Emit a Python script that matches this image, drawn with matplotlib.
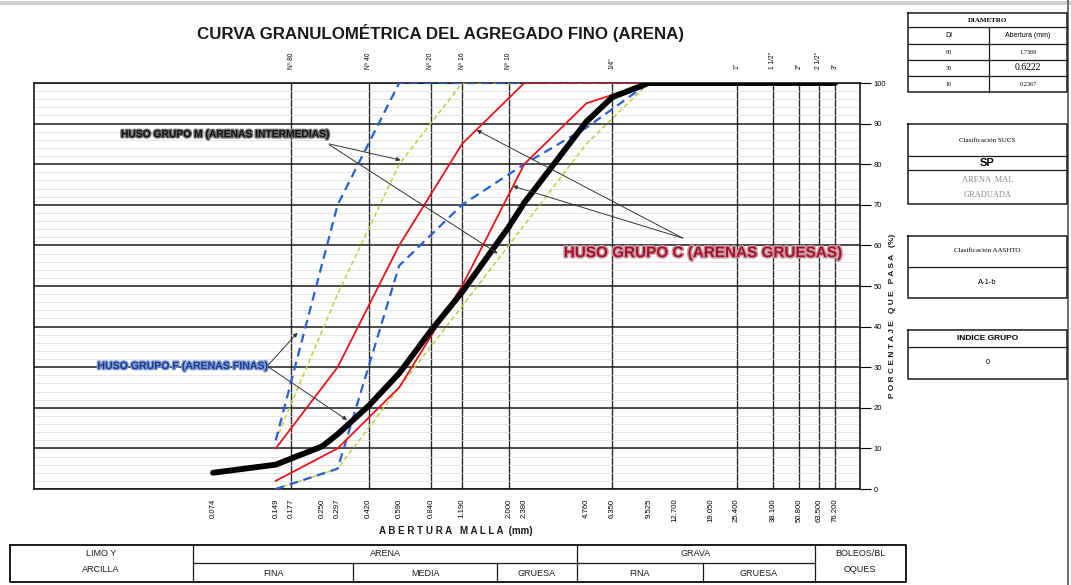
import matplotlib
matplotlib.use("Agg")
import matplotlib.pyplot as plt
import matplotlib.patheffects as pe
from matplotlib.ticker import NullLocator, MultipleLocator, FixedLocator

plt.rcParams['font.family'] = ['Liberation Sans', 'DejaVu Sans']

# Tamices (mm) y etiquetas del eje inferior
tamices = [0.074, 0.149, 0.177, 0.250, 0.297, 0.420, 0.590, 0.840, 1.190,
           2.000, 2.380, 4.760, 6.350, 9.525, 12.700, 19.050, 25.400,
           38.100, 50.800, 63.500, 76.200]
etiquetas_tamiz = ["0.074", "0.149", "0.177", "0.250", "0.297", "0.420",
                   "0.590", "0.840", "1.190", "2.000", "2.380", "4.760",
                   "6.350", "9.525", "12.700", "19.050", "25.400", "38.100",
                   "50.800", "63.500", "76.200"]
# Porcentaje que pasa de la muestra
pasa_muestra = [4, 6, 7.5, 10.5, 13.5, 20.5, 28.5, 39, 48.5, 64.5, 70.5,
                90.5, 96.5, 100, 100, 100, 100, 100, 100, 100, 100]

# Husos granulometricos
tamices_huso = [0.149, 0.297, 0.590, 1.190, 2.380, 4.760, 9.525]
huso_c_sup = [10, 30, 60, 85, 100, 100, 100]
huso_c_inf = [2, 10, 25, 50, 80, 95, 100]
huso_m_sup = [12, 48, 80, 100, 100, 100, 100]
huso_m_inf = [0, 5, 25, 45, 65, 85, 100]
huso_f_sup = [12, 70, 100, 100, 100, 100, 100]
huso_f_inf = [0, 5, 55, 70, 80, 89, 100]

# Mallas (eje superior / lineas verticales)
mallas_nombre = ["Nº 80", "Nº 40", "Nº 20", "Nº 16", "Nº 10", '1/4"', '1"',
                 '1 1/2"', '2"', '2 1/2"', '3"']
mallas_abertura = [0.177, 0.420, 0.840, 1.190, 2.000, 6.350, 25.400,
                   38.100, 50.800, 63.500, 76.200]

# Tabla de diametros
diametros_di = ["60", "30", "10"]
diametros_mm = ["1.7369", "0.6222", "0.2367"]

W, H = 1071, 585
fig = plt.figure(figsize=(W / 100, H / 100), dpi=100)

# Ejes principales (posicion en pixeles de la figura)
x0, x1, y0, y1 = 33.5, 859.5, 83, 489
ax = fig.add_axes([x0 / W, 1 - y1 / H, (x1 - x0) / W, (y1 - y0) / H])
ax.set_xscale('log')
ax.set_xlim(0.01, 100)
ax.set_ylim(0, 100)

# Rejilla
ax.yaxis.set_major_locator(MultipleLocator(10))
ax.yaxis.set_minor_locator(MultipleLocator(2))
ax.grid(axis='y', which='major', color='#1a1a1a', lw=1.1, zorder=1)
ax.grid(axis='y', which='minor', color='#dadada', lw=0.5, zorder=0)
for m in mallas_abertura:
    ax.axvline(m, color='#2a2a2a', lw=1.0, zorder=1)

# Husos
ax.plot(tamices_huso, huso_m_sup, color='#c2cc3c', lw=1.1, ls=(0, (3, 2)), zorder=3)
ax.plot(tamices_huso, huso_m_inf, color='#c2cc3c', lw=1.1, ls=(0, (3, 2)), zorder=3)
ax.plot(tamices_huso, huso_f_sup, color='#2b5fd6', lw=1.6, ls=(0, (4, 2.5)), zorder=3)
ax.plot(tamices_huso, huso_f_inf, color='#2b5fd6', lw=1.6, ls=(0, (4, 2.5)), zorder=3)
ax.plot(tamices_huso, huso_c_sup, color='#e8141b', lw=1.3, zorder=4)
ax.plot(tamices_huso, huso_c_inf, color='#e8141b', lw=1.3, zorder=4)

# Curva de la muestra
ax.plot(tamices, pasa_muestra, color='black', lw=4.2, solid_capstyle='round',
        solid_joinstyle='round', zorder=5)

# Ejes
for s in ax.spines.values():
    s.set_linewidth(1.2)
    s.set_color('#1a1a1a')
ax.set_xticks(tamices)
ax.set_xticklabels(etiquetas_tamiz, rotation=90, fontsize=5.6)
ax.xaxis.set_minor_locator(NullLocator())
ax.tick_params(axis='x', length=0, pad=7)
ax.yaxis.tick_right()
ax.tick_params(axis='y', which='major', length=8, width=0.8, pad=2, labelsize=5.5)
ax.tick_params(axis='y', which='minor', length=0)
ax.tick_params(axis='y', which='both', left=False)

sec = ax.secondary_xaxis('top')
sec.xaxis.set_major_locator(FixedLocator(mallas_abertura))
sec.set_xticklabels(mallas_nombre, rotation=90, fontsize=4.8)
sec.xaxis.set_minor_locator(NullLocator())
sec.tick_params(length=0, pad=10)
sec.spines['top'].set_visible(False)

# Anotaciones de husos
flecha = dict(arrowstyle='-|>', lw=0.7, color='#333333', mutation_scale=6,
              shrinkA=0, shrinkB=0)
ax.text(0.2306, 0.874, "HUSO GRUPO M (ARENAS INTERMEDIAS)", transform=ax.transAxes,
        ha='center', va='center', fontsize=7.4, fontweight='bold', color='#111111',
        path_effects=[pe.withStroke(linewidth=2.0, foreground='#6e6e6e')], zorder=6)
ax.annotate('', xy=(0.60, 81), xytext=(0.358, 0.850), textcoords='axes fraction',
            arrowprops=flecha, zorder=6)
ax.annotate('', xy=(1.77, 58), xytext=(0.358, 0.848), textcoords='axes fraction',
            arrowprops=flecha, zorder=6)

ax.text(0.180, 0.303, "HUSO GRUPO F (ARENAS FINAS)", transform=ax.transAxes,
        ha='center', va='center', fontsize=7.6, fontweight='bold', color='#1b3a8c',
        path_effects=[pe.withStroke(linewidth=2.0, foreground='#7f9ad4')], zorder=6)
ax.annotate('', xy=(0.19, 38.5), xytext=(0.284, 0.305), textcoords='axes fraction',
            arrowprops=flecha, zorder=6)
ax.annotate('', xy=(0.33, 17), xytext=(0.284, 0.301), textcoords='axes fraction',
            arrowprops=flecha, zorder=6)

ax.text(0.810, 0.581, "HUSO GRUPO C (ARENAS GRUESAS)", transform=ax.transAxes,
        ha='center', va='center', fontsize=11, fontweight='bold', color='#a3102a',
        path_effects=[pe.withStroke(linewidth=2.2, foreground='#c99aa3')], zorder=6)
ax.annotate('', xy=(1.40, 88.4), xytext=(0.786, 0.618), textcoords='axes fraction',
            arrowprops=flecha, zorder=6)
ax.annotate('', xy=(2.10, 74.6), xytext=(0.786, 0.618), textcoords='axes fraction',
            arrowprops=flecha, zorder=6)

# Capa superior en pixeles para textos y tablas
ov = fig.add_axes([0, 0, 1, 1], zorder=10)
ov.set_xlim(0, W)
ov.set_ylim(H, 0)
ov.axis('off')
ov.patch.set_alpha(0)

ov.text(197, 33, "CURVA GRANULOMÉTRICA DEL AGREGADO FINO (ARENA)", ha='left',
        va='center', fontsize=12.2, fontweight='bold', color='#1a1a1a')
ov.text(456, 531, "A B E R T U R A   M A L L A  (mm)", ha='center', va='center',
        fontsize=7.0, fontweight='bold', color='#1a1a1a')
ov.text(892, 316, "P O R C E N T A J E   Q U E   P A S A   (%)", ha='center',
        va='center', rotation=90, fontsize=6.0, fontweight='bold', color='#1a1a1a')

# Linea del borde del escaneo
ov.plot([0, W], [3, 3], color='#cfcfcf', lw=3)
ov.plot([1068, 1068], [0, H], color='#555555', lw=1.2)


def caja(xa, xb, ya, yb, lw=1.1):
    ov.plot([xa, xb, xb, xa, xa], [ya, ya, yb, yb, ya], color='#1a1a1a', lw=lw)


def linea(xa, xb, ya, yb, lw=0.9):
    ov.plot([xa, xb], [ya, yb], color='#1a1a1a', lw=lw)


# Tabla de diametros
bx0, bx1, bxm = 908, 1067, 989
caja(bx0, bx1, 13, 92)
linea(bx0, bx1, 27, 27)
linea(bx0, bx1, 44, 44)
linea(bx0, bx1, 60, 60)
linea(bx0, bx1, 76, 76)
linea(bxm, bxm, 27, 92)
ov.text((bx0 + bx1) / 2, 20, "DIAMETRO", ha='center', va='center', fontsize=5,
        fontweight='bold', family='Liberation Serif')
ov.text((bx0 + bxm) / 2, 35.5, "DI", ha='center', va='center', fontsize=5)
ov.text((bxm + bx1) / 2, 35.5, "Abertura (mm)", ha='center', va='center', fontsize=5)
filas_y = [52, 68, 84]
for d, v, yy in zip(diametros_di, diametros_mm, filas_y):
    ov.text((bx0 + bxm) / 2, yy, d, ha='center', va='center', fontsize=4.5,
            family='Liberation Serif')
    ov.text((bxm + bx1) / 2, yy, v, ha='center', va='center',
            fontsize=7 if v == "0.6222" else 4.5, family='Liberation Serif')

# Clasificacion SUCS
caja(bx0, bx1, 124, 204)
linea(bx0, bx1, 156, 156)
linea(bx0, bx1, 170, 170)
ov.text((bx0 + bx1) / 2, 140, "Clasificación SUCS", ha='center', va='center',
        fontsize=5, family='Liberation Serif')
ov.text((bx0 + bx1) / 2, 163, "SP", ha='center', va='center', fontsize=8,
        fontweight='bold')
ov.text((bx0 + bx1) / 2, 180, "ARENA  MAL", ha='center', va='center', fontsize=6,
        color='#8a8a8a', family='Liberation Serif')
ov.text((bx0 + bx1) / 2, 195, "GRADUADA", ha='center', va='center', fontsize=6,
        color='#8a8a8a', family='Liberation Serif')

# Clasificacion AASHTO
caja(bx0, bx1, 236, 298)
linea(bx0, bx1, 267, 267)
ov.text((bx0 + bx1) / 2, 251, "Clasificación AASHTO", ha='center', va='center',
        fontsize=5, family='Liberation Serif')
ov.text((bx0 + bx1) / 2, 283, "A-1-b", ha='center', va='center', fontsize=5.5)

# Indice de grupo
caja(bx0, bx1, 330, 379)
linea(bx0, bx1, 347, 347)
ov.text((bx0 + bx1) / 2, 338.5, "INDICE GRUPO", ha='center', va='center',
        fontsize=6, fontweight='bold')
ov.text((bx0 + bx1) / 2, 363, "0", ha='center', va='center', fontsize=5.5)

# Tabla inferior de clasificacion
caja(10, 906, 545, 582, lw=1.4)
linea(193, 815, 563, 563)
for xv in [193, 577, 815]:
    linea(xv, xv, 545, 582)
for xv in [353, 497, 703]:
    linea(xv, xv, 563, 582)
ft = dict(ha='center', va='center', fontsize=6.5, color='#1a1a1a')
ov.text(101, 553, "LIMO Y", **ft)
ov.text(101, 570, "ARCILLA", **ft)
ov.text(385, 554, "ARENA", **ft)
ov.text(696, 554, "GRAVA", **ft)
ov.text(273, 573, "FINA", **ft)
ov.text(425, 573, "MEDIA", **ft)
ov.text(537, 573, "GRUESA", **ft)
ov.text(640, 573, "FINA", **ft)
ov.text(759, 573, "GRUESA", **ft)
ov.text(860, 554, "BOLEOS/BL", **ft)
ov.text(860, 570, "OQUES", **ft)

fig.savefig("out.png", dpi=100)
